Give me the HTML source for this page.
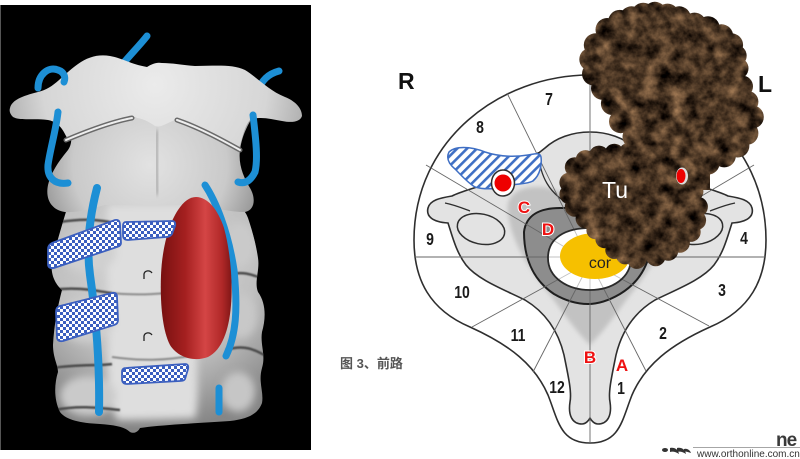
<!DOCTYPE html>
<html><head><meta charset="utf-8"><style>
html,body{margin:0;padding:0;background:#fff;}
body{width:800px;height:459px;overflow:hidden;}
svg{display:block;}
</style></head><body>
<svg width="800" height="459" viewBox="0 0 800 459" xmlns="http://www.w3.org/2000/svg">
<defs>
  <pattern id="chk" width="6" height="6" patternUnits="userSpaceOnUse">
    <rect width="6" height="6" fill="#fff"/>
    <rect width="3" height="3" fill="#3b5fbf"/>
    <rect x="3" y="3" width="3" height="3" fill="#3b5fbf"/>
  </pattern>
  <pattern id="hatch" width="7" height="7" patternUnits="userSpaceOnUse" patternTransform="rotate(45)">
    <rect width="7" height="7" fill="#fff"/>
    <rect width="2.6" height="7" fill="#3f6fc4"/>
  </pattern>
  <radialGradient id="spineG" cx="155" cy="260" r="170" gradientUnits="userSpaceOnUse">
    <stop offset="0" stop-color="#dcdcdc"/>
    <stop offset="0.6" stop-color="#c0c0c0"/>
    <stop offset="1" stop-color="#868686"/>
  </radialGradient>
  <radialGradient id="atlasG" cx="155" cy="85" r="160" gradientUnits="userSpaceOnUse">
    <stop offset="0" stop-color="#ebebeb"/>
    <stop offset="0.7" stop-color="#d6d6d6"/>
    <stop offset="1" stop-color="#a8a8a8"/>
  </radialGradient>
  <radialGradient id="c2G" cx="150" cy="165" r="110" gradientUnits="userSpaceOnUse">
    <stop offset="0" stop-color="#e2e2e2"/>
    <stop offset="0.7" stop-color="#cacaca"/>
    <stop offset="1" stop-color="#9a9a9a"/>
  </radialGradient>
  <linearGradient id="redG" x1="160" y1="0" x2="233" y2="0" gradientUnits="userSpaceOnUse">
    <stop offset="0" stop-color="#761010"/>
    <stop offset="0.35" stop-color="#a52020"/>
    <stop offset="0.62" stop-color="#d44545"/>
    <stop offset="0.85" stop-color="#b02828"/>
    <stop offset="1" stop-color="#7a1414"/>
  </linearGradient>
  <clipPath id="colClip">
    <path d="M68,205 C62,225 56,245 52,262 C50,275 56,285 62,290 C58,305 54,325 53,345 C53,358 58,365 58,372 C54,385 54,400 60,412 C66,420 80,423 100,424 C115,425 125,427 130,432 C134,434 138,432 140,428 C160,425 200,423 230,421 C248,419 258,414 262,403 C264,392 258,382 262,368 C266,355 260,345 262,332 C266,318 266,303 258,292 C254,282 260,270 258,258 C256,244 252,230 248,218 C246,212 240,205 235,203 Z"/>
  </clipPath>
  <filter id="b2" x="-20%" y="-20%" width="140%" height="140%"><feGaussianBlur stdDeviation="2"/></filter>
  <filter id="b4" x="-30%" y="-30%" width="160%" height="160%"><feGaussianBlur stdDeviation="4"/></filter>
  <filter id="b1"><feGaussianBlur stdDeviation="0.8"/></filter>
  <filter id="tex" filterUnits="userSpaceOnUse" x="540" y="0" width="240" height="280" color-interpolation-filters="sRGB">
    <feTurbulence type="fractalNoise" baseFrequency="0.07" numOctaves="4" seed="7" result="n"/>
    <feColorMatrix in="n" type="matrix" values="0.9 0 0 0 -0.16  0.7 0 0 0 -0.14  0.5 0 0 0 -0.11  0 0 0 0 1" result="c"/>
    <feComposite in="c" in2="SourceAlpha" operator="in"/>
  </filter>
</defs>

<rect width="800" height="459" fill="#fff"/>

<!-- ================= LEFT IMAGE ================= -->
<rect x="0" y="5" width="311" height="445" fill="#000"/>
<rect x="0" y="5" width="1" height="445" fill="#555"/>

<g fill="none" stroke="#1d8fd5" stroke-linecap="round">
  <path d="M147,36 C140,45 130,55 121,66" stroke-width="7"/>
  <path d="M279,71 C268,74 262,80 257,92" stroke-width="7"/>
</g>

<!-- lower column -->
<path d="M68,205 C62,225 56,245 52,262 C50,275 56,285 62,290 C58,305 54,325 53,345 C53,358 58,365 58,372 C54,385 54,400 60,412 C66,420 80,423 100,424 C115,425 125,427 130,432 C134,434 138,432 140,428 C160,425 200,423 230,421 C248,419 258,414 262,403 C264,392 258,382 262,368 C266,355 260,345 262,332 C266,318 266,303 258,292 C254,282 260,270 258,258 C256,244 252,230 248,218 C246,212 240,205 235,203 Z" fill="url(#spineG)"/>
<g clip-path="url(#colClip)">
<g filter="url(#b4)">
  <path d="M108,205 C105,250 110,300 108,340 C106,380 110,410 118,420 L195,418 C200,400 196,360 196,330 C198,300 196,250 192,205 Z" fill="#dedede"/>
  <ellipse cx="88" cy="252" rx="28" ry="20" fill="#d0d0d0"/>
  <ellipse cx="86" cy="320" rx="28" ry="22" fill="#cdcdcd"/>
  <ellipse cx="88" cy="396" rx="28" ry="20" fill="#cacaca"/>
  <ellipse cx="240" cy="245" rx="15" ry="22" fill="#cacaca"/>
  <ellipse cx="242" cy="316" rx="15" ry="22" fill="#c8c8c8"/>
  <ellipse cx="238" cy="392" rx="17" ry="20" fill="#c6c6c6"/>
</g>
<g fill="none" stroke="#4a4a4a" stroke-width="2.5" filter="url(#b1)">
  <path d="M52,290 C80,286 100,292 112,293"/>
  <path d="M52,368 C80,364 100,366 112,364"/>
  <path d="M228,275 C245,270 255,276 266,280"/>
  <path d="M226,350 C245,344 255,350 266,356"/>
  <path d="M60,222 C85,218 98,220 110,222"/>
  <path d="M55,410 C80,405 100,408 120,410"/>
</g>
<g fill="none" stroke="#8a8a8a" stroke-width="2" filter="url(#b1)">
  <path d="M112,293 C140,296 160,294 195,290"/>
  <path d="M112,357 C140,361 165,361 195,355"/>
</g>
</g>

<!-- C2 -->
<path d="M60,118 C70,125 75,140 68,150 C60,160 52,170 48,185 C45,200 52,210 65,212 C80,213 92,208 105,205 L200,205 C215,208 230,212 245,212 C255,210 256,198 250,188 C244,178 238,165 240,150 C242,135 248,125 252,118 Z" fill="url(#c2G)"/>
<!-- atlas -->
<path d="M10,108 C12,100 22,96 38,92 C55,88 62,75 78,64 C88,57 98,54 110,56 C122,58 130,64 147,67 C152,64 156,62 162,63 C172,63 182,65 195,66 C215,66 232,64 245,70 C258,78 268,90 285,97 C295,101 302,108 302,116 C300,122 292,123 282,121 C270,119 260,116 250,120 C243,128 242,142 238,150 C225,146 212,135 200,127 C190,121 182,118 175,120 C165,124 160,128 155,126 C148,121 140,117 132,118 C115,122 95,128 78,136 C72,140 68,140 66,136 C62,128 58,122 48,120 C35,118 20,121 13,117 C10,114 9,111 10,108 Z" fill="url(#atlasG)"/>
<g fill="none" stroke-linecap="round">
  <path d="M66,140 C85,132 110,122 132,118" stroke="#6a6a6a" stroke-width="5"/>
  <path d="M66,140 C85,132 110,122 132,118" stroke="#eeeeee" stroke-width="2"/>
  <path d="M177,120 C200,128 222,140 240,150" stroke="#6a6a6a" stroke-width="5"/>
  <path d="M177,120 C200,128 222,140 240,150" stroke="#eeeeee" stroke-width="2"/>
</g>
<path d="M157,130 C156,150 156,170 158,195" stroke="#b0b0b0" stroke-width="5" fill="none" filter="url(#b2)"/>

<!-- front vessels -->
<g fill="none" stroke="#1d8fd5" stroke-linecap="round">
  <path d="M38,88 C38,75 48,66 58,70 C64,72 66,77 64,82" stroke-width="7"/>
  <path d="M58,112 C56,130 50,150 48,165 C47,178 55,185 68,183" stroke-width="7"/>
  <path d="M97,188 C90,215 86,245 90,275 C95,310 100,360 99,412" stroke-width="8"/>
  <path d="M253,115 C256,140 258,160 255,172 C250,182 244,184 238,182" stroke-width="7"/>
  <path d="M205,185 C215,200 228,230 234,270 C238,310 236,335 226,356" stroke-width="7"/>
  <path d="M219,388 L219,412" stroke-width="7"/>
</g>

<!-- red tumor (left) -->
<path d="M196,197 C208,197 218,210 224,228 C230,250 233,280 231,305 C229,330 222,350 208,357 C195,362 178,358 170,345 C162,330 160,300 161,275 C162,250 168,225 178,210 C184,201 190,197 196,197 Z" fill="url(#redG)"/>

<!-- checker patches -->
<g fill="url(#chk)" stroke="#3b5fbf" stroke-width="1.8">
  <path d="M52,243 L115,220 Q120,219 120,225 L121,243 Q121,246 117,247 L54,268 Q48,269 48,264 L48,249 Q48,245 52,243 Z"/>
  <path d="M126,222 L172,221 Q176,221 175,226 L172,234 Q170,237 166,237 L128,240 Q123,240 123,235 L123,226 Q123,222 126,222 Z"/>
  <path d="M60,306 L112,293 Q117,292 117,297 L118,320 Q118,324 114,325 L63,341 Q57,342 57,337 L56,312 Q56,307 60,306 Z"/>
  <path d="M126,368 L185,364 Q189,364 188,369 L185,379 Q184,381 180,381 L127,384 Q122,384 122,379 L122,372 Q122,368 126,368 Z"/>
</g>
<g fill="none" stroke="#222" stroke-width="1.3">
  <path d="M152,273 C150,270 145,270 144,274 L144,279"/>
  <path d="M152,335 C150,332 145,332 144,336 L144,341"/>
</g>

<!-- ================= RIGHT DIAGRAM ================= -->
<path d="M414,240 C414,140 500,75 590,75 C680,75 766,140 766,240 C766,280 750,310 710,327 C670,345 645,365 632,395 C622,420 620,443 590,443 C560,443 558,420 548,395 C535,365 510,345 470,327 C430,310 414,280 414,240 Z" fill="#fff" stroke="#2e2e2e" stroke-width="1.6"/>

<!-- vertebra -->
<path d="M590,132 C572,132 556,138 545,148 C530,160 510,176 480,186 C468,190 460,192 452,196 C440,198 430,200 428,208 C426,216 432,222 448,223 C452,235 456,252 466,265 C478,280 505,290 525,300 C545,312 558,330 564,355 C568,375 572,392 570,402 C568,415 572,424 582,424 C586,424 589,420 590,418 C591,420 594,424 598,424 C608,424 612,415 610,402 C608,392 612,375 616,355 C622,330 635,312 655,300 C675,290 702,280 714,265 C724,252 728,235 732,223 C748,222 754,216 752,208 C750,200 740,198 728,196 C720,192 712,190 700,186 C670,176 650,160 635,148 C624,138 608,132 590,132 Z" fill="#e3e3e3" stroke="#2e2e2e" stroke-width="1.6"/>
<!-- medium grey -->
<path d="M508,212 C505,195 520,186 540,187 C560,188 575,200 590,205 C605,200 620,188 640,187 C660,186 675,195 672,212 C670,240 650,270 630,295 C615,315 605,330 590,345 C575,330 565,315 550,295 C530,270 510,240 508,212 Z" fill="#c2c2c2" filter="url(#b2)"/>
<!-- foramina -->
<ellipse cx="481" cy="229" rx="24" ry="15" transform="rotate(12 481 229)" fill="#e3e3e3" stroke="#2e2e2e" stroke-width="1.5"/>
<ellipse cx="699" cy="229" rx="24" ry="15" transform="rotate(-12 699 229)" fill="#e3e3e3" stroke="#2e2e2e" stroke-width="1.5"/>
<g fill="none" stroke="#2e2e2e" stroke-width="1.3">
  <path d="M538,152 C540,175 548,195 575,207"/>
  <path d="M642,152 C640,175 632,195 605,207"/>
  <path d="M445,203 C455,205 462,208 470,211"/>
  <path d="M735,203 C725,205 718,208 710,211"/>
</g>
<!-- dark ring -->
<path d="M524,232 C526,215 540,208 560,208 L618,208 C638,208 652,215 652,232 C652,262 640,282 620,294 C608,301 598,304 588,304 C578,304 566,301 554,294 C536,282 524,262 524,232 Z" fill="#8d8d8d" stroke="#1e1e1e" stroke-width="2"/>
<path d="M548,258 C548,238 565,228 590,228 C615,228 631,238 631,258 C631,278 612,290 590,290 C568,290 548,278 548,258 Z" fill="#fff"/>

<!-- sector lines -->
<g stroke="#666" stroke-width="0.9">
  <line x1="590" y1="75" x2="590" y2="443"/>
  <line x1="414" y1="257" x2="766" y2="257"/>
  <line x1="507" y1="93" x2="590" y2="262"/>
  <line x1="426" y1="165" x2="590" y2="262"/>
  <line x1="472" y1="327" x2="590" y2="262"/>
  <line x1="533" y1="372" x2="590" y2="262"/>
  <line x1="646" y1="371" x2="590" y2="262"/>
  <line x1="709" y1="326" x2="590" y2="262"/>
  <line x1="754" y1="165" x2="590" y2="262"/>
  <line x1="673" y1="93" x2="590" y2="262"/>
</g>
<path d="M548,258 C548,238 565,228 590,228 C615,228 631,238 631,258 C631,278 612,290 590,290 C568,290 548,278 548,258 Z" fill="#fff" fill-opacity="0.6" stroke="#2a2a2a" stroke-width="1.8"/>
<ellipse cx="595" cy="256" rx="35" ry="23" fill="#f6c000"/>
<text x="600" y="268" font-family="Liberation Sans, sans-serif" font-size="16" fill="#222" text-anchor="middle">cor</text>

<!-- hatched region -->
<path d="M449,152 C455,146 470,146 485,152 C500,157 515,157 528,155 C535,154 540,152 541,157 C542,165 540,175 533,181 C525,185 515,183 505,187 C495,189 485,190 475,187 C468,183 462,176 455,169 C449,164 446,158 449,152 Z" fill="url(#hatch)" stroke="#3f6fc4" stroke-width="1.5"/>
<ellipse cx="503" cy="183" rx="11.5" ry="13" fill="#fff" stroke="#2e2e2e" stroke-width="1.5"/>
<circle cx="503" cy="183" r="8.5" fill="#ee0000"/>

<!-- numbers -->
<g font-family="Liberation Sans, sans-serif" font-size="17.5" font-weight="bold" fill="#1a1a1a" text-anchor="middle">
  <text transform="translate(549,99) scale(0.8,1)" y="6">7</text>
  <text transform="translate(480,127) scale(0.8,1)" y="6">8</text>
  <text transform="translate(430,239) scale(0.8,1)" y="6">9</text>
  <text transform="translate(462,292) scale(0.8,1)" y="6">10</text>
  <text transform="translate(518,335) scale(0.8,1)" y="6">11</text>
  <text transform="translate(557,387) scale(0.8,1)" y="6">12</text>
  <text transform="translate(621,388) scale(0.8,1)" y="6">1</text>
  <text transform="translate(663,333) scale(0.8,1)" y="6">2</text>
  <text transform="translate(722,290) scale(0.8,1)" y="6">3</text>
  <text transform="translate(744,238) scale(0.8,1)" y="6">4</text>
</g>
<g font-family="Liberation Sans, sans-serif" font-size="17" font-weight="bold" fill="#ee1111" text-anchor="middle" stroke="#fff" stroke-width="2" paint-order="stroke">
  <text x="524" y="213">C</text>
  <text x="548" y="235">D</text>
  <text x="590" y="363">B</text>
  <text x="622" y="371">A</text>
</g>

<!-- brown tumor -->
<g filter="url(#tex)">
  <g transform="translate(672,90) scale(0.9) translate(-672,-90)" fill="#000">
    <polygon points="587,40 600,23 614,14 627,10 640,6 653,5 667,7 680,10 697,17 712,21 727,30 738,40 743,52 745,66 750,86 756,103 761,120 755,138 745,152 730,163 712,171 697,172 680,170 665,160 648,150 630,142 615,125 606,105 595,88 585,72 582,56"/>
    <circle cx="587" cy="40" r="13"/><circle cx="600" cy="23" r="13"/><circle cx="614" cy="14" r="13"/>
    <circle cx="627" cy="10" r="13"/><circle cx="640" cy="6" r="13"/><circle cx="653" cy="5" r="13"/>
    <circle cx="667" cy="7" r="13"/><circle cx="680" cy="10" r="13"/><circle cx="697" cy="17" r="13"/>
    <circle cx="712" cy="21" r="13"/><circle cx="727" cy="30" r="13"/><circle cx="738" cy="40" r="13"/>
    <circle cx="743" cy="52" r="12"/><circle cx="745" cy="66" r="12"/><circle cx="750" cy="86" r="12"/>
    <circle cx="756" cy="103" r="12"/><circle cx="761" cy="120" r="13"/><circle cx="755" cy="138" r="13"/>
    <circle cx="745" cy="152" r="13"/><circle cx="730" cy="163" r="13"/><circle cx="712" cy="171" r="13"/>
    <circle cx="697" cy="172" r="13"/><circle cx="680" cy="170" r="13"/>
    <circle cx="630" cy="142" r="13"/><circle cx="615" cy="125" r="13"/><circle cx="606" cy="105" r="13"/>
    <circle cx="595" cy="88" r="13"/><circle cx="585" cy="72" r="13"/><circle cx="582" cy="56" r="13"/>
  </g>
  <g transform="translate(635,205) scale(0.9) translate(-635,-205)" fill="#000">
    <polygon points="562,180 568,163 580,155 595,150 612,148 628,147 645,150 662,156 678,165 692,175 700,190 705,207 703,222 697,235 685,247 672,256 658,262 637,265 624,261 612,255 601,243 591,233 580,220 568,207 562,193"/>
    <circle cx="562" cy="180" r="11"/><circle cx="568" cy="163" r="11"/><circle cx="580" cy="155" r="11"/>
    <circle cx="595" cy="150" r="11"/><circle cx="612" cy="148" r="11"/><circle cx="628" cy="147" r="11"/>
    <circle cx="645" cy="150" r="11"/><circle cx="662" cy="156" r="11"/><circle cx="678" cy="165" r="11"/>
    <circle cx="692" cy="175" r="11"/><circle cx="700" cy="190" r="11"/><circle cx="705" cy="207" r="11"/>
    <circle cx="703" cy="222" r="11"/><circle cx="697" cy="235" r="11"/><circle cx="685" cy="247" r="11"/>
    <circle cx="672" cy="256" r="11"/><circle cx="658" cy="262" r="11"/><circle cx="637" cy="265" r="11"/>
    <circle cx="624" cy="261" r="10"/><circle cx="612" cy="255" r="10"/><circle cx="601" cy="243" r="10"/>
    <circle cx="591" cy="233" r="10"/><circle cx="580" cy="220" r="11"/><circle cx="568" cy="207" r="11"/>
    <circle cx="562" cy="193" r="11"/>
  </g>
  <rect x="630" y="130" width="80" height="60" fill="#000"/>
</g>
<text x="602" y="198" font-family="Liberation Sans, sans-serif" font-size="23" fill="#fff">Tu</text>
<ellipse cx="682" cy="176" rx="6" ry="8.5" fill="#ddd"/>
<ellipse cx="681" cy="176" rx="4.5" ry="7" fill="#ee0000"/>

<g font-family="Liberation Sans, sans-serif" font-size="23" font-weight="bold" fill="#111">
  <text x="398" y="89">R</text>
  <text x="758" y="92">L</text>
</g>

<!-- caption -->
<text x="340" y="368" font-family="Liberation Sans, 'Noto Sans CJK SC', sans-serif" font-size="13" font-weight="bold" fill="#555">图 3、前路</text>

<!-- watermark -->
<text x="776" y="446" font-family="Liberation Sans, sans-serif" font-size="19" font-weight="bold" fill="#3a3a3a" letter-spacing="-1">ne</text>
<line x1="693" y1="447.5" x2="800" y2="447.5" stroke="#888" stroke-width="0.8"/>
<text x="697" y="457" font-family="Liberation Sans, sans-serif" font-size="10" fill="#333">www.orthonline.com.cn</text>
<g fill="#333">
  <ellipse cx="665" cy="450" rx="3" ry="2"/>
  <path d="M670,448 C674,447 678,449 679,454 C676,452 673,451 670,452 Z"/>
  <path d="M677,448 C681,447 685,449 686,454 C683,452 680,451 677,452 Z"/>
  <path d="M684,449 C687,448 690,450 691,453 C688,452 686,451 684,452 Z"/>
</g>
</svg>
</body></html>
